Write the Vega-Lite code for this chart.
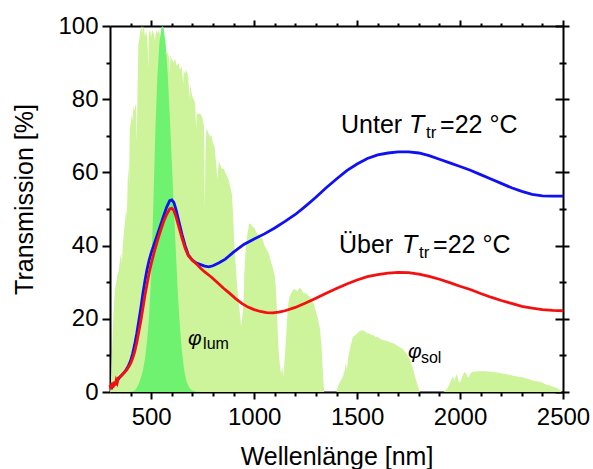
{
  "$schema": "https://vega.github.io/schema/vega-lite/v6.json",
  "width": 453,
  "height": 366,
  "autosize": {"type": "none"},
  "padding": {"left": 110, "top": 26, "right": 30, "bottom": 77},
  "background": "white",
  "config": {
    "view": {"stroke": null},
    "font": "Liberation Sans",
    "axis": {
      "domainColor": "black", "domainWidth": 2, "tickColor": "black", "tickWidth": 2,
      "labelColor": "black", "titleColor": "black", "grid": false,
      "labelFont": "Liberation Sans", "titleFont": "Liberation Sans", "titleFontWeight": "normal",
      "labelFontSize": 24, "titleFontSize": 25
    },
    "text": {"font": "Liberation Sans", "color": "black"}
  },
  "datasets": {
    "solar": [
      {"wl":300,"t":0},{"wl":304,"t":2},{"wl":308,"t":8},{"wl":312,"t":14},{"wl":316,"t":20},{"wl":320,"t":25},{"wl":324,"t":28},{"wl":330,"t":30},{"wl":336,"t":32},{"wl":342,"t":33},{"wl":348,"t":36},{"wl":354,"t":38},{"wl":358,"t":35},{"wl":362,"t":40},{"wl":368,"t":44},{"wl":374,"t":47},{"wl":378,"t":50},{"wl":382,"t":48},{"wl":386,"t":58},{"wl":390,"t":62},{"wl":393,"t":56},{"wl":396,"t":72},{"wl":400,"t":73},{"wl":405,"t":76},{"wl":410,"t":74},{"wl":414,"t":78},{"wl":420,"t":77},{"wl":426,"t":79},{"wl":430,"t":68},{"wl":434,"t":84},{"wl":438,"t":95},{"wl":444,"t":97},{"wl":448,"t":99},{"wl":452,"t":100},{"wl":456,"t":98},{"wl":460,"t":100},{"wl":466,"t":99},{"wl":470,"t":97},{"wl":476,"t":99},{"wl":482,"t":96},{"wl":486,"t":88},{"wl":488,"t":98},{"wl":494,"t":99},{"wl":500,"t":97},{"wl":506,"t":99},{"wl":512,"t":98},{"wl":518,"t":96},{"wl":522,"t":98},{"wl":526,"t":99},{"wl":532,"t":98},{"wl":538,"t":99},{"wl":544,"t":97},{"wl":550,"t":98},{"wl":556,"t":96},{"wl":562,"t":94},{"wl":568,"t":95},{"wl":574,"t":92},{"wl":580,"t":93},{"wl":588,"t":91},{"wl":590,"t":87},{"wl":594,"t":92},{"wl":600,"t":91},{"wl":608,"t":90},{"wl":616,"t":91},{"wl":624,"t":89},{"wl":632,"t":90},{"wl":640,"t":88},{"wl":648,"t":89},{"wl":656,"t":84},{"wl":658,"t":88},{"wl":664,"t":87},{"wl":672,"t":88},{"wl":680,"t":86},{"wl":686,"t":80},{"wl":690,"t":84},{"wl":698,"t":81},{"wl":706,"t":80},{"wl":714,"t":79},{"wl":718,"t":72},{"wl":722,"t":76},{"wl":730,"t":76},{"wl":740,"t":76},{"wl":748,"t":75},{"wl":756,"t":73},{"wl":760,"t":50},{"wl":764,"t":66},{"wl":768,"t":72},{"wl":776,"t":71},{"wl":784,"t":70},{"wl":792,"t":70},{"wl":800,"t":68},{"wl":808,"t":67},{"wl":816,"t":62},{"wl":822,"t":58},{"wl":828,"t":63},{"wl":836,"t":62},{"wl":844,"t":61},{"wl":852,"t":61},{"wl":860,"t":60},{"wl":868,"t":59},{"wl":876,"t":58},{"wl":884,"t":56},{"wl":892,"t":54},{"wl":898,"t":48},{"wl":904,"t":40},{"wl":910,"t":35},{"wl":916,"t":30},{"wl":922,"t":26},{"wl":930,"t":22},{"wl":936,"t":18},{"wl":942,"t":20},{"wl":948,"t":24},{"wl":952,"t":32},{"wl":958,"t":38},{"wl":964,"t":42},{"wl":970,"t":44},{"wl":976,"t":46},{"wl":984,"t":46},{"wl":992,"t":45},{"wl":1000,"t":45},{"wl":1008,"t":44},{"wl":1016,"t":43},{"wl":1024,"t":43},{"wl":1032,"t":42},{"wl":1040,"t":42},{"wl":1050,"t":40},{"wl":1060,"t":39},{"wl":1070,"t":38},{"wl":1080,"t":36},{"wl":1090,"t":34},{"wl":1100,"t":32},{"wl":1106,"t":28},{"wl":1112,"t":20},{"wl":1118,"t":12},{"wl":1124,"t":8},{"wl":1130,"t":5},{"wl":1136,"t":7},{"wl":1142,"t":4},{"wl":1148,"t":9},{"wl":1154,"t":14},{"wl":1160,"t":20},{"wl":1166,"t":24},{"wl":1172,"t":26},{"wl":1180,"t":27},{"wl":1190,"t":28},{"wl":1200,"t":28},{"wl":1210,"t":27.5},{"wl":1220,"t":28.5},{"wl":1230,"t":28},{"wl":1240,"t":27},{"wl":1250,"t":27},{"wl":1260,"t":26.5},{"wl":1270,"t":26},{"wl":1280,"t":25},{"wl":1290,"t":24},{"wl":1300,"t":22},{"wl":1310,"t":20},{"wl":1320,"t":17},{"wl":1328,"t":12},{"wl":1334,"t":5},{"wl":1340,"t":0},{"wl":1400,"t":0},{"wl":1410,"t":2},{"wl":1420,"t":3},{"wl":1430,"t":4},{"wl":1440,"t":6},{"wl":1446,"t":8},{"wl":1450,"t":6},{"wl":1456,"t":9},{"wl":1462,"t":11},{"wl":1470,"t":13},{"wl":1480,"t":15},{"wl":1490,"t":15.5},{"wl":1500,"t":16},{"wl":1510,"t":16.5},{"wl":1520,"t":16.8},{"wl":1530,"t":16.8},{"wl":1540,"t":16.5},{"wl":1550,"t":16},{"wl":1560,"t":16},{"wl":1570,"t":15.6},{"wl":1580,"t":15.5},{"wl":1590,"t":15},{"wl":1600,"t":15},{"wl":1620,"t":14.3},{"wl":1640,"t":14},{"wl":1660,"t":13.6},{"wl":1680,"t":13.2},{"wl":1700,"t":12.5},{"wl":1720,"t":11.8},{"wl":1740,"t":10.5},{"wl":1760,"t":8.5},{"wl":1775,"t":5.5},{"wl":1790,"t":2.5},{"wl":1805,"t":0},{"wl":1920,"t":0},{"wl":1940,"t":1},{"wl":1955,"t":3},{"wl":1965,"t":4.4},{"wl":1972,"t":3},{"wl":1978,"t":4},{"wl":1985,"t":5},{"wl":1992,"t":3},{"wl":2000,"t":2.5},{"wl":2010,"t":4},{"wl":2020,"t":5.5},{"wl":2030,"t":5},{"wl":2040,"t":3.8},{"wl":2050,"t":5},{"wl":2060,"t":5.5},{"wl":2080,"t":5.6},{"wl":2100,"t":5.7},{"wl":2120,"t":5.7},{"wl":2150,"t":5.5},{"wl":2180,"t":5.3},{"wl":2210,"t":5},{"wl":2240,"t":4.7},{"wl":2270,"t":4.3},{"wl":2300,"t":4},{"wl":2330,"t":3.6},{"wl":2360,"t":3},{"wl":2390,"t":2.8},{"wl":2420,"t":2},{"wl":2440,"t":1.7},{"wl":2460,"t":1.3},{"wl":2480,"t":0.8},{"wl":2495,"t":0}
    ],
    "vlum": [
      {"wl":380,"t":0},{"wl":390,"t":0.01},{"wl":400,"t":0.04},{"wl":410,"t":0.12},{"wl":420,"t":0.4},{"wl":430,"t":1.16},{"wl":440,"t":2.3},{"wl":450,"t":3.8},{"wl":460,"t":6.0},{"wl":470,"t":9.1},{"wl":480,"t":13.9},{"wl":490,"t":20.8},{"wl":500,"t":32.3},{"wl":510,"t":50.3},{"wl":520,"t":71.0},{"wl":530,"t":86.2},{"wl":540,"t":95.4},{"wl":550,"t":99.5},{"wl":555,"t":100},{"wl":560,"t":99.5},{"wl":570,"t":95.2},{"wl":580,"t":87.0},{"wl":590,"t":75.7},{"wl":600,"t":63.1},{"wl":610,"t":50.3},{"wl":620,"t":38.1},{"wl":630,"t":26.5},{"wl":640,"t":17.5},{"wl":650,"t":10.7},{"wl":660,"t":6.1},{"wl":670,"t":3.2},{"wl":680,"t":1.7},{"wl":690,"t":0.82},{"wl":700,"t":0.41},{"wl":710,"t":0.21},{"wl":720,"t":0.1},{"wl":740,"t":0.02},{"wl":760,"t":0}
    ],
    "unter": [
      {"wl":305,"t":0.8},{"wl":312,"t":1.5},{"wl":320,"t":2.0},{"wl":330,"t":2.8},{"wl":340,"t":3.5},{"wl":350,"t":4.2},{"wl":360,"t":4.8},{"wl":370,"t":5.4},{"wl":380,"t":6.2},{"wl":390,"t":7.2},{"wl":400,"t":8.5},{"wl":410,"t":10.5},{"wl":420,"t":13},{"wl":430,"t":16},{"wl":440,"t":19.5},{"wl":450,"t":23},{"wl":460,"t":27},{"wl":470,"t":30.5},{"wl":480,"t":33.5},{"wl":490,"t":36},{"wl":500,"t":38},{"wl":515,"t":40.5},{"wl":530,"t":43},{"wl":545,"t":45.5},{"wl":560,"t":48},{"wl":575,"t":50.5},{"wl":590,"t":52.3},{"wl":600,"t":52.5},{"wl":610,"t":51.8},{"wl":620,"t":50},{"wl":635,"t":46.5},{"wl":650,"t":43},{"wl":665,"t":40},{"wl":680,"t":37.5},{"wl":700,"t":36},{"wl":720,"t":35.2},{"wl":740,"t":34.8},{"wl":760,"t":34.4},{"wl":780,"t":34.2},{"wl":800,"t":34.5},{"wl":830,"t":35.3},{"wl":860,"t":36.3},{"wl":900,"t":38.2},{"wl":950,"t":40.3},{"wl":1000,"t":41.8},{"wl":1050,"t":43.2},{"wl":1100,"t":44.8},{"wl":1150,"t":46.6},{"wl":1200,"t":48.5},{"wl":1250,"t":50.8},{"wl":1300,"t":53.2},{"wl":1350,"t":55.8},{"wl":1400,"t":58.2},{"wl":1450,"t":60.5},{"wl":1500,"t":62.3},{"wl":1550,"t":63.8},{"wl":1600,"t":64.8},{"wl":1650,"t":65.3},{"wl":1700,"t":65.6},{"wl":1750,"t":65.6},{"wl":1800,"t":65.3},{"wl":1850,"t":64.6},{"wl":1900,"t":63.6},{"wl":1950,"t":62.6},{"wl":2000,"t":61.6},{"wl":2050,"t":60.6},{"wl":2100,"t":59.4},{"wl":2150,"t":58.2},{"wl":2200,"t":57},{"wl":2250,"t":55.8},{"wl":2300,"t":54.8},{"wl":2350,"t":54},{"wl":2400,"t":53.6},{"wl":2450,"t":53.5},{"wl":2500,"t":53.5}
    ],
    "ueber": [
      {"wl":300,"t":2.0},{"wl":305,"t":0.8},{"wl":310,"t":2.5},{"wl":315,"t":1.2},{"wl":320,"t":2.8},{"wl":325,"t":1.8},{"wl":330,"t":3.2},{"wl":335,"t":2.5},{"wl":340,"t":3.8},{"wl":350,"t":4.2},{"wl":360,"t":4.8},{"wl":370,"t":5.3},{"wl":380,"t":6},{"wl":390,"t":6.8},{"wl":400,"t":7.8},{"wl":410,"t":9.2},{"wl":420,"t":11},{"wl":430,"t":13.5},{"wl":440,"t":16.5},{"wl":450,"t":19.5},{"wl":460,"t":23},{"wl":470,"t":26.5},{"wl":480,"t":29.5},{"wl":490,"t":32.5},{"wl":500,"t":35},{"wl":515,"t":38.3},{"wl":530,"t":41.3},{"wl":545,"t":44},{"wl":560,"t":46.5},{"wl":575,"t":48.5},{"wl":590,"t":50},{"wl":600,"t":50.2},{"wl":610,"t":49.6},{"wl":620,"t":48},{"wl":635,"t":45},{"wl":650,"t":42},{"wl":665,"t":39.3},{"wl":680,"t":37.3},{"wl":700,"t":36},{"wl":720,"t":35},{"wl":740,"t":33.8},{"wl":760,"t":32.8},{"wl":790,"t":31.5},{"wl":820,"t":30},{"wl":850,"t":28.4},{"wl":880,"t":27},{"wl":910,"t":25.5},{"wl":940,"t":24.2},{"wl":970,"t":23.2},{"wl":1000,"t":22.5},{"wl":1030,"t":22},{"wl":1060,"t":21.7},{"wl":1090,"t":21.6},{"wl":1120,"t":21.8},{"wl":1150,"t":22.2},{"wl":1200,"t":23.1},{"wl":1250,"t":24.3},{"wl":1300,"t":25.6},{"wl":1350,"t":27},{"wl":1400,"t":28.3},{"wl":1450,"t":29.5},{"wl":1500,"t":30.6},{"wl":1550,"t":31.5},{"wl":1600,"t":32.1},{"wl":1650,"t":32.5},{"wl":1700,"t":32.7},{"wl":1750,"t":32.6},{"wl":1800,"t":32.2},{"wl":1850,"t":31.6},{"wl":1900,"t":30.8},{"wl":1950,"t":29.9},{"wl":2000,"t":28.9},{"wl":2050,"t":28},{"wl":2100,"t":26.9},{"wl":2150,"t":25.9},{"wl":2200,"t":25},{"wl":2250,"t":24.2},{"wl":2300,"t":23.4},{"wl":2350,"t":22.9},{"wl":2400,"t":22.5},{"wl":2450,"t":22.3},{"wl":2500,"t":22.2}
    ],
    "mainText": [{"wl":1422,"t":70.85,"label":"Unter"},{"wl":1412,"t":38.06,"label":"Über"}],
    "italicT": [{"wl":1752,"t":70.85,"label":"T"},{"wl":1718,"t":38.06,"label":"T"}],
    "subTr": [{"wl":1835,"t":69.3,"label":"tr"},{"wl":1801,"t":36.5,"label":"tr"}],
    "eqText": [{"wl":1903,"t":70.85,"label":"=22 °C"},{"wl":1869,"t":38.06,"label":"=22 °C"}],
    "phi": [{"wl":679,"t":12.8,"label":"φ"},{"wl":1747,"t":9.2,"label":"φ"}],
    "phiSub": [{"wl":752,"t":11.7,"label":"lum"},{"wl":1810,"t":7.8,"label":"sol"}]
  },
  "layer": [
    {
      "data": {"name": "solar"},
      "mark": {"type": "area", "color": "#cdf39b", "opacity": 1},
      "encoding": {
        "x": {"field": "wl", "type": "quantitative", "scale": {"domain": [300, 2500], "nice": false, "zero": false},
              "axis": {"orient": "bottom", "values": [500, 1000, 1500, 2000, 2500], "format": "d", "tickSize": 7, "labelPadding": 6, "title": "Wellenlänge [nm]", "titlePadding": 15, "labelFlush": false}},
        "y": {"field": "t", "type": "quantitative", "stack": null, "scale": {"domain": [0, 100], "nice": false},
              "axis": {"orient": "left", "values": [0, 20, 40, 60, 80, 100], "format": "d", "tickSize": 8, "labelPadding": 4, "title": "Transmission [%]", "titlePadding": 20, "titleY": 173, "labelFlush": false}}
      }
    },
    {
      "data": {"name": "vlum"},
      "mark": {"type": "area", "color": "#6ff26f", "opacity": 1},
      "encoding": {
        "x": {"field": "wl", "type": "quantitative",
              "axis": {"orient": "bottom", "values": [400, 600, 700, 800, 900, 1100, 1200, 1300, 1400, 1600, 1700, 1800, 1900, 2100, 2200, 2300, 2400], "tickSize": 4, "labels": false, "domain": false, "title": null}},
        "y": {"field": "t", "type": "quantitative", "stack": null,
              "axis": {"orient": "left", "values": [10, 30, 50, 70, 90], "tickSize": 4, "labels": false, "domain": false, "title": null}}
      }
    },
    {
      "data": {"name": "unter"},
      "mark": {"type": "line", "color": "#1010f5", "strokeWidth": 2.8},
      "encoding": {
        "x": {"field": "wl", "type": "quantitative",
              "axis": {"orient": "top", "values": [500, 1000, 1500, 2000, 2500], "tickSize": 6, "labels": false, "title": null}},
        "y": {"field": "t", "type": "quantitative",
              "axis": {"orient": "right", "values": [0, 20, 40, 60, 80, 100], "tickSize": 6, "labels": false, "title": null}}
      }
    },
    {
      "data": {"name": "ueber"},
      "mark": {"type": "line", "color": "#f51010", "strokeWidth": 2.8},
      "encoding": {
        "x": {"field": "wl", "type": "quantitative",
              "axis": {"orient": "top", "values": [400, 600, 700, 800, 900, 1100, 1200, 1300, 1400, 1600, 1700, 1800, 1900, 2100, 2200, 2300, 2400], "tickSize": 3, "labels": false, "domain": false, "title": null}},
        "y": {"field": "t", "type": "quantitative",
              "axis": {"orient": "right", "values": [0, 20, 40, 60, 80, 100], "tickSize": -8, "labels": false, "domain": false, "title": null}}
      }
    },
    {
      "data": {"name": "mainText"},
      "mark": {"type": "text", "align": "left", "baseline": "alphabetic", "fontSize": 25},
      "encoding": {
        "x": {"field": "wl", "type": "quantitative", "axis": null},
        "y": {"field": "t", "type": "quantitative",
              "axis": {"orient": "right", "values": [10, 30, 50, 70, 90], "tickSize": 3, "labels": false, "domain": false, "title": null}},
        "text": {"field": "label"}
      }
    },
    {
      "data": {"name": "italicT"},
      "mark": {"type": "text", "align": "left", "baseline": "alphabetic", "fontSize": 25, "fontStyle": "italic"},
      "encoding": {
        "x": {"field": "wl", "type": "quantitative", "axis": null},
        "y": {"field": "t", "type": "quantitative",
              "axis": {"orient": "right", "values": [10, 30, 50, 70, 90], "tickSize": -4, "labels": false, "domain": false, "title": null}},
        "text": {"field": "label"}
      }
    },
    {
      "data": {"name": "subTr"},
      "mark": {"type": "text", "align": "left", "baseline": "alphabetic", "fontSize": 17},
      "encoding": {
        "x": {"field": "wl", "type": "quantitative", "axis": null},
        "y": {"field": "t", "type": "quantitative", "axis": null},
        "text": {"field": "label"}
      }
    },
    {
      "data": {"name": "eqText"},
      "mark": {"type": "text", "align": "left", "baseline": "alphabetic", "fontSize": 25},
      "encoding": {
        "x": {"field": "wl", "type": "quantitative", "axis": null},
        "y": {"field": "t", "type": "quantitative", "axis": null},
        "text": {"field": "label"}
      }
    },
    {
      "data": {"name": "phi"},
      "mark": {"type": "text", "align": "left", "baseline": "alphabetic", "fontSize": 21, "fontStyle": "italic"},
      "encoding": {
        "x": {"field": "wl", "type": "quantitative", "axis": null},
        "y": {"field": "t", "type": "quantitative", "axis": null},
        "text": {"field": "label"}
      }
    },
    {
      "data": {"name": "phiSub"},
      "mark": {"type": "text", "align": "left", "baseline": "alphabetic", "fontSize": 16},
      "encoding": {
        "x": {"field": "wl", "type": "quantitative", "axis": null},
        "y": {"field": "t", "type": "quantitative", "axis": null},
        "text": {"field": "label"}
      }
    }
  ],
  "resolve": {"axis": {"x": "independent", "y": "independent"}}
}
